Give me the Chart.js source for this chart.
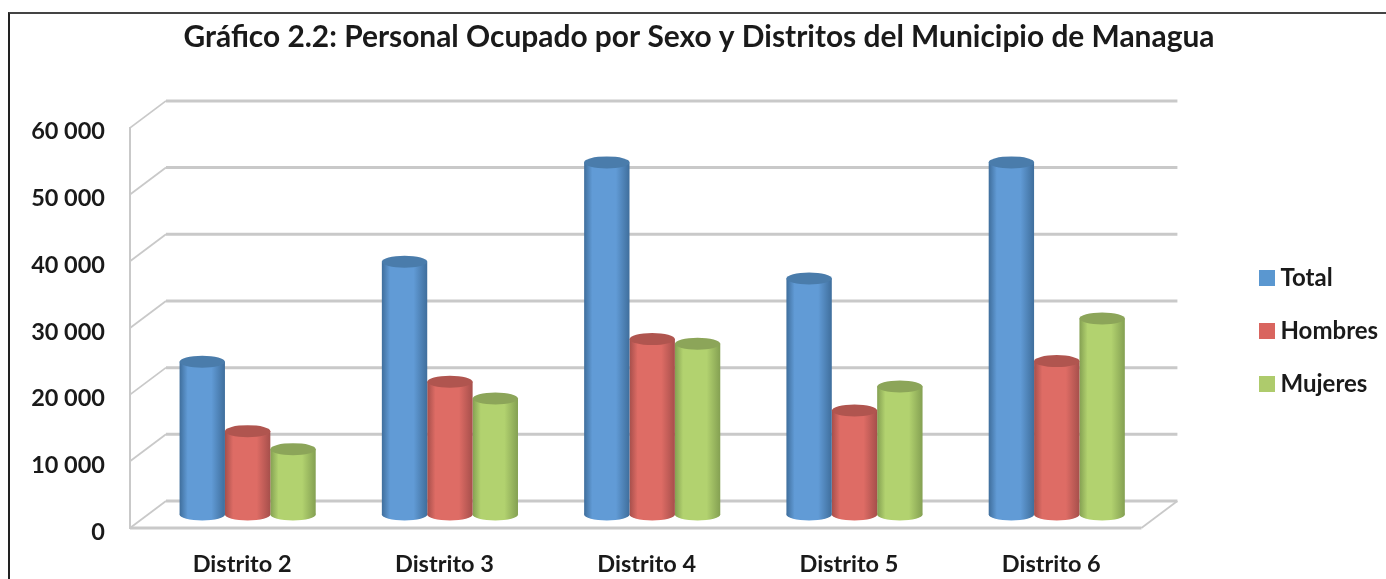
<!DOCTYPE html>
<html><head><meta charset="utf-8">
<script src="https://cdn.jsdelivr.net/npm/chart.js@4"></script>
<style>
html,body{margin:0;padding:0;background:#fff;overflow:hidden}
#wrap{position:relative;width:1386px;height:579px}
#frame{position:absolute;left:8px;top:12px;right:-5px;bottom:-5px;border-left:2px solid #222;border-top:2px solid #444}
canvas{position:absolute;left:0;top:0;filter:blur(0.7px)}
</style></head>
<body><div id="wrap"><div id="frame"></div><canvas id="c" width="1386" height="579"></canvas></div>
<script>
const titleText = 'Gráfico 2.2: Personal Ocupado por Sexo y Distritos del Municipio de Managua';
const categories = ['Distrito 2','Distrito 3','Distrito 4','Distrito 5','Distrito 6'];
const total   = [22900,37900,52800,35400,52800];
const hombres = [12500,19900,26300,15600,23000];
const mujeres = [9800,17400,25600,19200,29400];
const seriesNames = ['Total','Hombres','Mujeres'];
const edgeColors = ['#3f6e9c','#a64f4b','#84a052'];
const midColors  = ['#619bd6','#de6c65','#b2d26f'];
const capColors  = ['#4a7cab','#b0554f','#8ca559'];
const swatches   = ['#5a97d0','#d9655f','#aecb6c'];
const DEPTH_X = 36, DEPTH_Y = 27, BAR_SHIFT_X = 16.5, BAR_GROUP = 0.673, CAP_RY = 6;

function grad(ctx,l,r,i){
  const g = ctx.createLinearGradient(l,0,r,0);
  g.addColorStop(0,edgeColors[i]);
  g.addColorStop(0.18,midColors[i]);
  g.addColorStop(0.7,midColors[i]);
  g.addColorStop(1,edgeColors[i]);
  return g;
}
function barFill(c){
  const ch = c.chart;
  if(!ch.chartArea || c.dataIndex===undefined) return swatches[c.datasetIndex];
  const xs = ch.scales.x, w = xs.width/categories.length*BAR_GROUP/3;
  const cx = xs.getPixelForValue(c.dataIndex)+(c.datasetIndex-1)*w;
  return grad(ch.ctx,cx-w/2,cx+w/2,c.datasetIndex);
}
function swatch(col){
  const s=document.createElement('canvas'); s.width=16; s.height=16;
  const x=s.getContext('2d'); x.fillStyle=col; x.fillRect(0,0,16,16);
  return s;
}
const wall3d = {
  id:'wall3d',
  afterLayout(ch){
    const lg = ch.legend, w = lg.width, h = lg.height;
    lg.left = 1235.5; lg.right = 1235.5+w; lg.top = 237; lg.bottom = 237+h;
    ch.titleBlock.left = 0; ch.titleBlock.right = 1398;
  },
  beforeDatasetsDraw(ch){
    const {ctx,chartArea:a,scales:{y}} = ch;
    ctx.save();
    ctx.strokeStyle='#c9c9c9';
    y.ticks.forEach(t=>{
      const p=y.getPixelForValue(t.value);
      ctx.lineWidth=3;
      ctx.beginPath();ctx.moveTo(a.left+DEPTH_X,p-DEPTH_Y);ctx.lineTo(a.right+DEPTH_X,p-DEPTH_Y);ctx.stroke();
      ctx.lineWidth=1.8;
      ctx.beginPath();ctx.moveTo(a.left,p);ctx.lineTo(a.left+DEPTH_X,p-DEPTH_Y);ctx.stroke();
    });
    const b=y.getPixelForValue(0);
    ctx.lineWidth=3;
    ctx.beginPath();ctx.moveTo(a.left,b);ctx.lineTo(a.right,b);ctx.stroke();
    ctx.lineWidth=1.8;
    ctx.beginPath();ctx.moveTo(a.right,b);ctx.lineTo(a.right+DEPTH_X,b-DEPTH_Y);ctx.stroke();
    ctx.restore();
    ctx.save();
    ctx.translate(BAR_SHIFT_X,-DEPTH_Y/2);
    ch.data.datasets.forEach((d,i)=>{
      ch.getDatasetMeta(i).data.forEach(el=>{
        ctx.fillStyle=grad(ctx,el.x-el.width/2,el.x+el.width/2,i);
        ctx.beginPath();ctx.ellipse(el.x,el.base,el.width/2,CAP_RY,0,0,Math.PI*2);ctx.fill();
      });
    });
  },
  afterDatasetsDraw(ch){
    const {ctx}=ch;
    ch.data.datasets.forEach((d,i)=>{
      ch.getDatasetMeta(i).data.forEach(el=>{
        ctx.fillStyle=capColors[i];
        ctx.beginPath();ctx.ellipse(el.x,el.y,el.width/2,CAP_RY,0,0,Math.PI*2);ctx.fill();
      });
    });
    ctx.restore();
  }
};
const LEFT_PAD = 20;
const common = {backgroundColor:barFill,categoryPercentage:BAR_GROUP,barPercentage:1,borderWidth:0};
new Chart(document.getElementById('c'),{
  type:'bar',
  plugins:[wall3d],
  data:{labels:categories,datasets:[
    {label:seriesNames[0],data:total,...common},
    {label:seriesNames[1],data:hombres,...common},
    {label:seriesNames[2],data:mujeres,...common}
  ]},
  options:{
    responsive:false,animation:false,
    layout:{padding:{left:LEFT_PAD,right:92,top:0,bottom:0}},
    scales:{
      x:{grid:{display:false},border:{display:false},
        ticks:{color:'#1a1a1a',labelOffset:11,padding:14,maxRotation:0,font:{family:'Lato',weight:'700',size:23.5}},
        afterFit(s){s.height=51;}},
      y:{min:0,max:60000,grid:{display:false},border:{display:true,color:'#c9c9c9',width:2},
        ticks:{stepSize:10000,color:'#1a1a1a',padding:17,labelOffset:4,font:{family:'Lato',weight:'700',size:23.5},
          callback:v=>String(v).replace(/\B(?=(\d{3})+$)/g,' ')},
        afterFit(s){s.width=130-LEFT_PAD;}}
    },
    plugins:{
      tooltip:{enabled:false},
      title:{display:true,text:titleText,color:'#1a1a1a',padding:{top:19,bottom:73},
        font:{family:'Lato',weight:'700',size:29.9}},
      legend:{position:'right',align:'start',
        labels:{padding:29,usePointStyle:true,pointStyleWidth:4,boxHeight:16,color:'#1a1a1a',
          font:{family:'Lato',weight:'700',size:24},
          generateLabels:()=>seriesNames.map((n,i)=>({text:n,pointStyle:swatch(swatches[i]),fillStyle:swatches[i],strokeStyle:swatches[i],lineWidth:0,datasetIndex:i,fontColor:'#1a1a1a'}))}}
    }
  }
});
</script></body></html>
